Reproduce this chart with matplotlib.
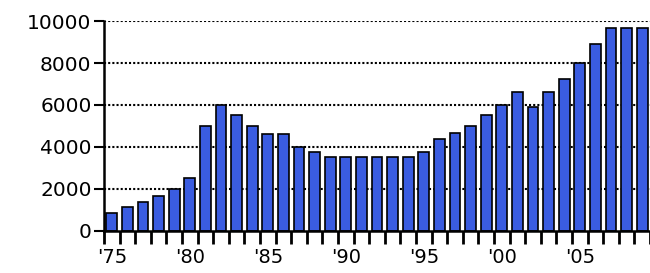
import matplotlib.pyplot as plt
import numpy as np

# Valores por ano (1975-2009)
anos = np.arange(1975, 2010)
valores = [870, 1130, 1400, 1650, 2000, 2500, 5000, 6000, 5500, 5000,
           4600, 4600, 4000, 3750, 3500, 3500, 3500, 3500, 3500, 3500,
           3750, 4400, 4650, 5000, 5500, 6000, 6600, 5900, 6600, 7250,
           8000, 8900, 9650, 9650, 9650]
rotulos_x = ["'75", "'80", "'85", "'90", "'95", "'00", "'05"]
anos_rotulo = [1975, 1980, 1985, 1990, 1995, 2000, 2005]
yticks = [0, 2000, 4000, 6000, 8000, 10000]

fig = plt.figure(figsize=(6.5, 2.73), dpi=100)
ax = fig.add_axes([0.16, 0.154, 0.84, 0.769])

ax.bar(anos, valores, width=0.68, color='#3a5ce0', edgecolor='black',
       linewidth=1.2, zorder=2)

ax.set_xlim(1974.5, 2009.2)
ax.set_ylim(0, 10000)

ax.set_yticks(yticks)
ax.set_yticklabels([str(v) for v in yticks], fontsize=14.5)
ax.set_xticks(anos_rotulo)
ax.set_xticklabels(rotulos_x, fontsize=14)
ax.tick_params(axis='x', which='major', length=0, pad=12)
ax.set_xticks(np.arange(1974.5, 2010, 1), minor=True)
ax.tick_params(axis='x', which='minor', length=9, width=2)
ax.tick_params(axis='y', length=7, width=1.5, pad=2)

for y in yticks[1:]:
    ax.axhline(y, color='black', linestyle=(0, (1, 1)), linewidth=1.5, zorder=1)

for s in ['top', 'right']:
    ax.spines[s].set_visible(False)
ax.spines['left'].set_linewidth(1.8)
ax.spines['bottom'].set_linewidth(1.8)

plt.savefig('out.png', dpi=100)
